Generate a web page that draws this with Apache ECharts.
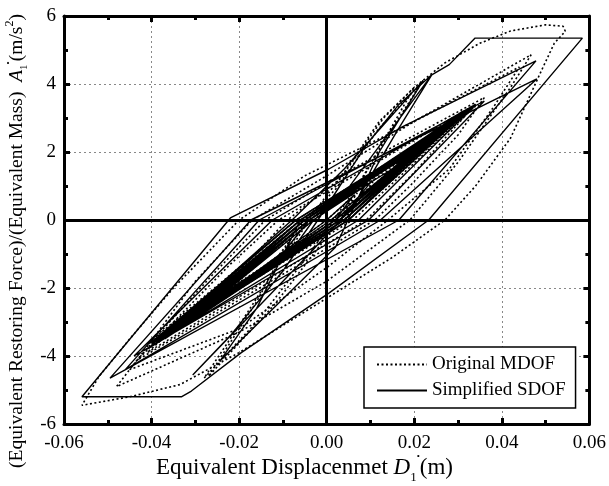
<!DOCTYPE html>
<html>
<head>
<meta charset="utf-8">
<script src="https://cdn.jsdelivr.net/npm/echarts@6/dist/echarts.min.js"></script>
<style>
html,body{margin:0;padding:0;background:#fff;}
#chart{width:609px;height:486px;}
</style>
</head>
<body>
<div id="chart"></div>
<script>
// ---- data ----
var xTicks = [-0.06, -0.04, -0.02, 0.00, 0.02, 0.04, 0.06];
var yTicks = [-6, -4, -2, 0, 2, 4, 6];
var seriesNames = ['Original MDOF', 'Simplified SDOF'];

// Simplified SDOF (solid) hysteresis path: [displacement (m), acceleration (m/s^2)]
var sdofLarge = [
  [0,0],[0.006,0.7],[0.002,0],[-0.008,-0.9],[-0.003,0],[0.01,1.1],[0.003,0],[-0.012,-1.3],[-0.004,0],
  [0.003,0.6],[0.024,4.27],[0.016,2.6],[0.006,0.4],[-0.004,-1.0],[-0.0306,-4.56],
  [-0.022,-3.4],[-0.01,-1.5],[-0.002,0.0],[0.009,2.2],[0.0165,3.4],[0.024,4.27],[0.028,4.57],[0.0339,5.35],[0.0584,5.35],
  [0.0233,0],[0.0005,-2.15],[-0.0195,-3.9],[-0.0309,-5.03],[-0.0332,-5.2],[-0.0559,-5.2],
  [-0.022,0.06],[0.0005,1.5],[0.0176,2.76],[0.0478,4.68],
  [0.0165,0.0],[-0.0495,-4.65],
  [-0.0173,0],[0.048,4.15],
  [0.0123,0],[-0.046,-4.4],
  [-0.0154,0],[0.036,3.5],
  [0.0096,0],[-0.044,-4.0],
  [-0.0124,0],[0.034,3.4],
  [0.0073,0],[-0.041,-3.8],
  [-0.0079,0],[0.004,1.5],[0.022,4.1],[0.012,2.0],[0.002,-0.8],[-0.0244,-4.15],
  [-0.016,-2.6],[-0.006,0]
];
var sdofBand = [
  [0.031,3.1],[0.004,0],[-0.037,-3.4],[-0.006,0],
  [0.028,2.85],[0.003,0],[-0.034,-3.15],[-0.005,0],
  [0.032,3.2],[0.005,0],[-0.039,-3.55],[-0.007,0],
  [0.026,2.65],[0.003,0],[-0.032,-2.95],[-0.004,0],
  [0.030,3.0],[0.004,0],[-0.036,-3.3],[-0.006,0],
  [0.024,2.45],[0.002,0],[-0.030,-2.8],[-0.004,0],
  [0.033,3.3],[0.005,0],[-0.040,-3.6],[-0.007,0],
  [0.027,2.75],[0.003,0],[-0.033,-3.05],[-0.005,0],
  [0.029,2.95],[0.004,0],[-0.035,-3.25],[-0.006,0],
  [0.022,2.25],[0.002,0],[-0.028,-2.6],[-0.004,0],
  [0.031,3.15],[0.004,0],[-0.038,-3.45],[-0.006,0],
  [0.025,2.55],[0.003,0],[-0.031,-2.9],[-0.005,0],
  [0.020,2.05],[0.002,0],[-0.026,-2.4],[-0.003,0],
  [0.028,2.9],[0.004,0],[-0.034,-3.2],[-0.005,0],
  [0.018,1.85],[0.002,0],[-0.024,-2.2],[-0.003,0],
  [0.030,3.05],[0.004,0],[-0.036,-3.35],[-0.006,0],
  [0.029,2.9],[0.003,0],[-0.038,-3.5],[-0.005,0],
  [0.026,2.6],[0.004,0],[-0.035,-3.3],[-0.006,0],
  [0.032,3.25],[0.003,0],[-0.037,-3.45],[-0.004,0],
  [0.023,2.35],[0.003,0],[-0.033,-3.1],[-0.005,0],
  [0.030,3.1],[0.005,0],[-0.039,-3.6],[-0.006,0],
  [0.027,2.8],[0.002,0],[-0.036,-3.4],[-0.005,0],
  [0.021,2.15],[0.003,0],[-0.031,-2.95],[-0.004,0],
  [0.031,3.2],[0.004,0],[-0.040,-3.65],[-0.006,0],
  [0.025,2.5],[0.003,0],[-0.034,-3.2],[-0.005,0],
  [0.019,1.95],[0.002,0],[-0.029,-2.75],[-0.004,0],
  [0.028,2.85],[0.004,0],[-0.037,-3.5],[-0.006,0],
  [0.024,2.4],[0.003,0],[-0.032,-3.0],[-0.004,0],
  [0.015,1.5],[0.001,0],[-0.018,-1.7],[0,0]
];

// Original MDOF (dotted) hysteresis path
var mdofLarge = [
  [0,0],[0.007,0.8],[0.003,0],[-0.009,-1.0],[-0.004,0],[0.011,1.2],[0.004,0],[-0.013,-1.4],[-0.005,0],
  [0.002,0.9],[0.012,2.7],[0.022,4.1],[0.016,2.9],[0.006,0.8],[-0.004,-1.0],[-0.016,-3.0],[-0.028,-4.65],
  [-0.02,-3.1],[-0.006,-0.3],[0.004,1.4],[0.012,2.9],[0.02,3.9],[0.027,4.62],[0.035,5.2],[0.042,5.56],[0.05,5.74],[0.054,5.7],[0.0545,5.55],[0.052,5.2],[0.049,4.38],[0.042,2.41],[0.034,1.0],[0.027,0],[0.015,-1.1],[0,-2.3],[-0.02,-3.9],[-0.0335,-4.84],[-0.045,-5.2],[-0.0559,-5.45],
  [-0.052,-4.6],[-0.045,-3.5],[-0.035,-2.0],[-0.02,0],[-0.005,1.3],[0.02,2.9],[0.0467,4.86],
  [0.042,3.9],[0.03,1.7],[0.019,0],[0.0,-1.8],[-0.02,-3.3],[-0.048,-4.9],
  [-0.042,-3.9],[-0.03,-1.8],[-0.017,0],[0.0,1.3],[0.02,2.9],[0.044,4.5],
  [0.038,3.3],[0.028,1.5],[0.014,0],[0.0,-1.4],[-0.02,-3.2],[-0.045,-4.4],
  [-0.038,-3.3],[-0.026,-1.6],[-0.014,0],[0.0,1.1],[0.036,3.6],
  [0.03,2.5],[0.019,1.0],[0.011,0],[-0.043,-4.1],
  [-0.035,-3.0],[-0.022,-1.3],[-0.011,0],[0.034,3.4],
  [0.02,1.4],[0.009,0],[-0.041,-3.9],
  [-0.02,-1.5],[-0.009,0],[0.003,1.2],[0.013,3.0],[0.02,3.9],
  [0.012,2.1],[0.003,0],[-0.012,-2.5],[-0.027,-4.6],
  [-0.016,-2.4],[-0.006,0]
];
var mdofBand = [
  [0.032,3.15],[0.005,0],[-0.038,-3.5],[-0.006,0],
  [0.029,2.9],[0.004,0],[-0.035,-3.2],[-0.005,0],
  [0.033,3.3],[0.005,0],[-0.040,-3.6],[-0.007,0],
  [0.027,2.7],[0.003,0],[-0.033,-3.0],[-0.004,0],
  [0.031,3.05],[0.004,0],[-0.037,-3.35],[-0.006,0],
  [0.025,2.5],[0.003,0],[-0.031,-2.85],[-0.004,0],
  [0.034,3.35],[0.006,0],[-0.041,-3.65],[-0.007,0],
  [0.028,2.8],[0.003,0],[-0.034,-3.1],[-0.005,0],
  [0.030,3.0],[0.004,0],[-0.036,-3.3],[-0.006,0],
  [0.023,2.3],[0.003,0],[-0.029,-2.65],[-0.004,0],
  [0.032,3.2],[0.005,0],[-0.039,-3.5],[-0.006,0],
  [0.026,2.6],[0.003,0],[-0.032,-2.95],[-0.005,0],
  [0.021,2.1],[0.002,0],[-0.027,-2.45],[-0.004,0],
  [0.029,2.95],[0.004,0],[-0.035,-3.25],[-0.005,0],
  [0.019,1.9],[0.002,0],[-0.025,-2.25],[-0.003,0],
  [0.030,3.0],[0.003,0],[-0.039,-3.55],[-0.005,0],
  [0.027,2.65],[0.004,0],[-0.036,-3.35],[-0.006,0],
  [0.033,3.3],[0.004,0],[-0.038,-3.5],[-0.005,0],
  [0.024,2.4],[0.003,0],[-0.034,-3.15],[-0.005,0],
  [0.031,3.15],[0.005,0],[-0.040,-3.65],[-0.006,0],
  [0.022,2.2],[0.003,0],[-0.030,-2.9],[-0.004,0],
  [0.016,1.6],[0.001,0],[-0.019,-1.8],[0,0]
];

var sdofPath = sdofLarge.concat(sdofBand);
var mdofPath = mdofLarge.concat(mdofBand);

// ---- chart ----
var serif = '"Liberation Serif", "DejaVu Serif", serif';
var chart = echarts.init(document.getElementById('chart'), null, {renderer: 'canvas'});

function axisCommon(extra) {
  var base = {
    axisLine: {show: true, onZero: false, lineStyle: {color: '#000', width: 3}},
    axisTick: {show: true, inside: true, length: 6, lineStyle: {color: '#000', width: 3}},
    minorTick: {show: true, splitNumber: 2, length: 4, lineStyle: {color: '#000', width: 3}},
    splitLine: {show: false},
    axisLabel: {show: false}
  };
  for (var k in extra) base[k] = extra[k];
  return base;
}

var option = {
  animation: false,
  backgroundColor: '#fff',
  grid: {left: 64, right: 17, top: 16, bottom: 62},
  legend: {
    data: seriesNames,
    orient: 'vertical',
    left: 364, top: 347,
    itemWidth: 50, itemHeight: 14, itemGap: 7,
    padding: [8, 10, 8, 12],
    borderColor: '#000', borderWidth: 1.5,
    backgroundColor: '#fff',
    itemStyle: {opacity: 0},
    textStyle: {fontFamily: serif, fontSize: 19, color: '#000'}
  },
  xAxis: [
    axisCommon({
      type: 'value', min: -0.06, max: 0.06, interval: 0.02, position: 'bottom',
      axisLabel: {show: true, margin: 10, color: '#000', fontFamily: serif, fontSize: 19,
        formatter: function (v) { return v.toFixed(2); }},
      splitLine: {show: true, lineStyle: {color: '#888', type: [2, 3], width: 1}}
    }),
    axisCommon({type: 'value', min: -0.06, max: 0.06, interval: 0.02, position: 'top'})
  ],
  yAxis: [
    axisCommon({
      type: 'value', min: -6, max: 6, interval: 2, position: 'left',
      axisLabel: {show: true, margin: 8, color: '#000', fontFamily: serif, fontSize: 19},
      splitLine: {show: true, lineStyle: {color: '#888', type: [2, 3], width: 1}}
    }),
    axisCommon({type: 'value', min: -6, max: 6, interval: 2, position: 'right'})
  ],
  graphic: [
    {
      type: 'text', left: 'center', top: 452,
      style: {
        text: '{n|Equivalent Displacenmet }{i|D}{sub|1}{sup|•}{n|(m)}',
        rich: {
          n: {fontFamily: serif, fontSize: 23, color: '#000', lineHeight: 32},
          i: {fontFamily: serif, fontSize: 23, fontStyle: 'italic', color: '#000', lineHeight: 32},
          sub: {fontFamily: serif, fontSize: 13, color: '#000', verticalAlign: 'bottom', lineHeight: 32},
          sup: {fontFamily: serif, fontSize: 9, color: '#000', verticalAlign: 'top', lineHeight: 32}
        }
      }
    },
    {
      type: 'text', x: 4, y: 241, rotation: Math.PI / 2,
      style: {
        text: '{n|(Equivalent Restoring Force)/(Equivalent Mass)  }{i|A}{sub|1}{sup|•}{n|(m/s}{sup2|2}{n|)}',
        align: 'center', verticalAlign: 'top',
        rich: {
          n: {fontFamily: serif, fontSize: 19.5, color: '#000', lineHeight: 26},
          i: {fontFamily: serif, fontSize: 19.5, fontStyle: 'italic', color: '#000', lineHeight: 26},
          sub: {fontFamily: serif, fontSize: 11, color: '#000', verticalAlign: 'bottom', lineHeight: 26},
          sup: {fontFamily: serif, fontSize: 9, color: '#000', verticalAlign: 'top', lineHeight: 26},
          sup2: {fontFamily: serif, fontSize: 12, color: '#000', verticalAlign: 'top', lineHeight: 26}
        }
      }
    }
  ],
  series: [
    {
      name: seriesNames[0], type: 'line', data: mdofPath,
      symbol: 'none', showSymbol: false, smooth: false, z: 3,
      lineStyle: {color: '#000', width: 1.6, type: [2, 2.5]},
      itemStyle: {color: '#000'}
    },
    {
      name: seriesNames[1], type: 'line', data: sdofPath,
      symbol: 'none', showSymbol: false, smooth: false, z: 4,
      lineStyle: {color: '#000', width: 1.4, type: 'solid'},
      itemStyle: {color: '#000'},
      markLine: {
        silent: true, symbol: 'none', animation: false,
        label: {show: false},
        lineStyle: {color: '#000', width: 3, type: 'solid'},
        data: [{xAxis: 0}, {yAxis: 0}]
      }
    }
  ]
};
chart.setOption(option);
</script>
</body>
</html>
